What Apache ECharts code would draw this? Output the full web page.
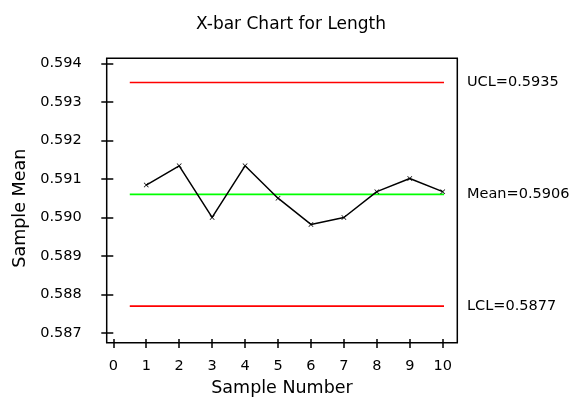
<!DOCTYPE html>
<html>
<head>
<meta charset="utf-8">
<script src="https://cdn.jsdelivr.net/npm/echarts@6/dist/echarts.min.js"></script>
<style>
  html, body { margin: 0; padding: 0; background: #fff; }
  #chart { width: 571px; height: 402px; }
</style>
</head>
<body>
<div id="chart"></div>
<script>
// Subgroup means for each sample
const sampleNumbers = [1, 2, 3, 4, 5, 6, 7, 8, 9, 10];
const sampleMeans = [0.59084, 0.59134, 0.59000, 0.59134, 0.59050, 0.58982, 0.59000, 0.59067, 0.59101, 0.59067];

// Control limits
const limitNames = ['UCL', 'Mean', 'LCL'];
const limitValues = [0.5935, 0.5906, 0.5877];
const limitColors = ['#ff0000', '#00ff00', '#ff0000'];
const limitSpan = [0.5, 10.25];

// Axis ranges
const xRange = [0, 10];
const yRange = [0.587, 0.594];

const FONT = 'DejaVu Sans';
const chart = echarts.init(document.getElementById('chart'), null, { renderer: 'canvas' });

const limitSeries = limitNames.map((name, i) => ({
  type: 'line',
  name: name,
  xAxisIndex: 0,
  yAxisIndex: 0,
  clip: false,
  symbol: 'none',
  data: limitSpan.map(x => [x, limitValues[i]]),
  lineStyle: { color: limitColors[i], width: 1.6 },
  endLabel: {
    show: true,
    formatter: name + '=' + limitValues[i].toFixed(4),
    color: '#000',
    fontFamily: FONT,
    fontSize: 14.5,
    distance: 23
  },
  z: 2
}));

chart.setOption({
  animation: false,
  backgroundColor: '#fff',
  title: {
    text: 'X-bar Chart for Length',
    left: 286,
    textAlign: 'center',
    top: 11,
    textStyle: { fontFamily: FONT, fontSize: 17, fontWeight: 'normal', color: '#000' }
  },
  grid: [
    // plotting region
    { left: 113.3, right: 128.3, top: 63.3, bottom: 65.3 },
    // outer frame
    { left: 106.7, right: 113.7, top: 58.3, bottom: 59.3, show: true,
      borderColor: '#000', borderWidth: 1.5, backgroundColor: 'transparent' }
  ],
  xAxis: [
    {
      type: 'value', gridIndex: 0, min: xRange[0], max: xRange[1], interval: 1,
      offset: 6,
      axisLine: { show: false },
      axisTick: { show: true, length: 9, lineStyle: { color: '#000', width: 1.5 } },
      splitLine: { show: false },
      axisLabel: { color: '#000', fontFamily: FONT, fontSize: 14.5, margin: 20 },
      name: 'Sample Number',
      nameLocation: 'middle',
      nameGap: 38,
      nameTextStyle: { color: '#000', fontFamily: FONT, fontSize: 17.5, padding: [0, 0, 0, 8] }
    },
    { type: 'value', gridIndex: 1, show: false, min: 0, max: 1 }
  ],
  yAxis: [
    {
      type: 'value', gridIndex: 0, min: yRange[0], max: yRange[1], interval: 0.001,
      offset: 6.6,
      axisLine: { show: false },
      axisTick: { show: true, length: 12, lineStyle: { color: '#000', width: 1.5 } },
      splitLine: { show: false },
      axisLabel: { color: '#000', fontFamily: FONT, fontSize: 14.5, margin: 25,
        formatter: v => v.toFixed(3) },
      name: 'Sample Mean',
      nameLocation: 'middle',
      nameRotate: 90,
      nameGap: 76,
      nameTextStyle: { color: '#000', fontFamily: FONT, fontSize: 17.5, padding: [0, 20, 0, 0] }
    },
    { type: 'value', gridIndex: 1, show: false, min: 0, max: 1 }
  ],
  series: [
    ...limitSeries,
    {
      type: 'line',
      name: 'Sample Mean',
      xAxisIndex: 0,
      yAxisIndex: 0,
      data: sampleNumbers.map((n, i) => [n, sampleMeans[i]]),
      symbol: 'path://M0,1L1,0L5,4L9,0L10,1L6,5L10,9L9,10L5,6L1,10L0,9L4,5Z',
      symbolSize: 5,
      itemStyle: { color: '#000' },
      lineStyle: { color: '#000', width: 1.5 },
      z: 3
    }
  ]
});
</script>
</body>
</html>
